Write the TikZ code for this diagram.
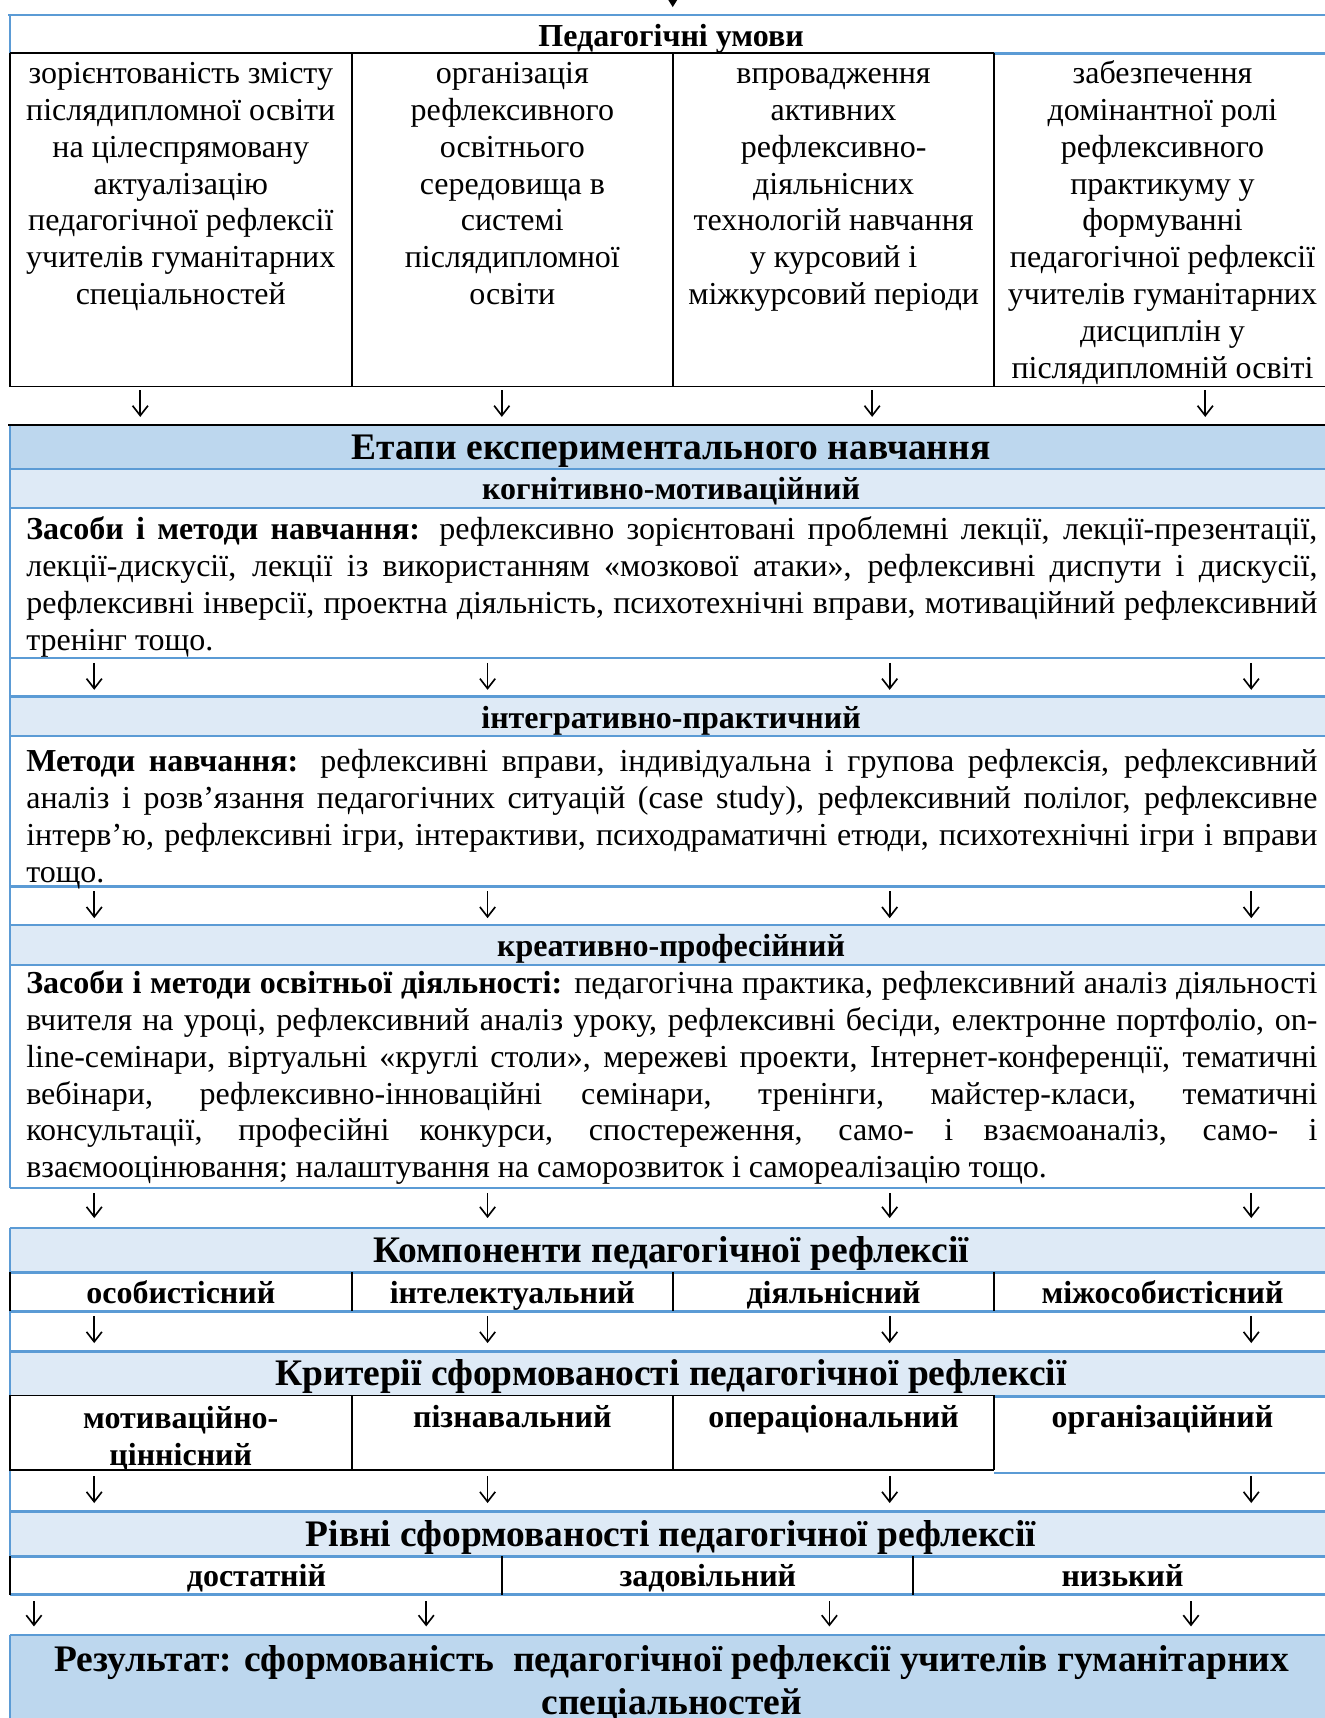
\documentclass[tikz,border=0pt]{standalone}
\usepackage{fontspec}
\setmainfont{Liberation Serif}
\usetikzlibrary{arrows.meta}
\definecolor{lineblue}{HTML}{5B9BD5}
\definecolor{darkfill}{HTML}{BDD7EE}
\definecolor{lightfill}{HTML}{DEEAF6}
\newlength\parw \setlength\parw{589.2pt}
\newcommand\bodyf{\fontsize{14.6pt}{16.8pt}\selectfont}
\newcommand\headf{\fontsize{17.1pt}{19.4pt}\selectfont\bfseries}
\newcommand\jl[1]{\makebox[\parw][s]{#1}}
\newcommand\arrowrow[4]{\foreach \x [count=\i] in {#4} {\coordinate (#1s\i) at (\x,#2); \coordinate (#1e\i) at (\x,#3); \draw[arr] (#1s\i) -- (#1e\i);}}
\begin{document}
\begin{tikzpicture}[x=0.5pt,y=-0.5pt,
  bl/.style={draw=lineblue,line width=1.1pt},
  bk/.style={draw=black,line width=0.85pt},
  arr/.style={-{Straight Barb[length=4.5pt,width=7pt]},line width=0.75pt},
  toparr/.style={-{Triangle[length=5pt,width=6pt]},line width=0.9pt},
  txt/.style={inner sep=0pt,font=\bodyf},
  btxt/.style={inner sep=0pt,font=\bodyf\bfseries},
  htxt/.style={inner sep=0pt,font=\headf}]
\useasboundingbox (0,0) rectangle (1209,1568);
% fills
\fill[darkfill] (9,387.8) rectangle (1215,428.3);
\fill[lightfill] (9,428.3) rectangle (1215,463.9);
\fill[lightfill] (9,635.7) rectangle (1215,671.6);
\fill[lightfill] (9,844) rectangle (1215,880.6);
\fill[lightfill] (9,1120.8) rectangle (1215,1161.3);
\fill[lightfill] (9,1233.4) rectangle (1215,1273.6);
\fill[lightfill] (9,1379.4) rectangle (1215,1420.5);
\fill[darkfill] (9,1492) rectangle (1215,1580);
% conditions frame
\draw[bl] (7.5,13.7) -- (1215,13.7);
\draw[bl] (9,13.7) -- (9,48.7);
\draw[bk] (9,48.7) -- (907.4,48.7);
\draw[bl] (907.4,48.7) -- (1215,48.7);
\draw[bk] (9,48.7) -- (9,352.8) -- (1215,352.8);
\foreach \x in {321,614.3,907.4} \draw[bk] (\x,48.7) -- (\x,352.8);
% stages frame
\draw[bl] (9,387.8) -- (9,1084.3);
\foreach \y in {428.3,463.9,600.7,635.7,671.6,809,844,880.6,1084.3} \draw[bl] (9,\y) -- (1215,\y);
\draw[bk] (7.5,387.8) -- (1215,387.8);
% components / criteria / levels frame
\draw[bl] (9,1120.8) -- (9,1161.3);
\draw[bl] (9,1196.9) -- (9,1273.6);
\draw[bl] (9,1342) -- (9,1420.5);
\foreach \y in {1120.8,1161.3,1196.9,1233.4,1379.4,1420.5,1455.4} \draw[bl] (9,\y) -- (1215,\y);
\draw[bk] (9,1161.3) -- (9,1196.9);
\foreach \x in {321,614.3,907.4} \draw[bk] (\x,1161.3) -- (\x,1196.9);
\draw[bk] (9,1273.6) -- (907.4,1273.6);
\draw[bl] (907.4,1274.5) -- (1215,1274.5);
\draw[bk] (9,1273.6) -- (9,1342) -- (907.4,1342);
\draw[bl] (907.4,1344.4) -- (1215,1344.4);
\foreach \x in {321,614.3,907.4} \draw[bk] (\x,1273.6) -- (\x,1342);
\draw[bk] (9,1420.5) -- (9,1455.4);
\foreach \x in {458.3,833.5} \draw[bk] (\x,1420.5) -- (\x,1455.4);
% result frame
\draw[bl] (9,1492) -- (1215,1492);
\draw[bl] (9,1492) -- (9,1580);
% texts: conditions
\node[btxt,anchor=base] (pu) at (612.5,42.6) {Педагогічні умови};
\node[txt,align=center,anchor=north] (c1) at (165,52.5) {\strut зорієнтованість змісту\\післядипломної освіти\\на цілеспрямовану\\актуалізацію\\педагогічної рефлексії\\учителів гуманітарних\\спеціальностей};
\node[txt,align=center,anchor=north] (c2) at (467.6,52.5) {\strut організація\\рефлексивного\\освітнього\\середовища в\\системі\\післядипломної\\освіти};
\node[txt,align=center,anchor=north] (c3) at (760.8,52.5) {\strut впровадження\\активних\\рефлексивно-\\діяльнісних\\технологій навчання\\у курсовий і\\міжкурсовий періоди};
\node[txt,align=center,anchor=north] (c4) at (1061,52.5) {\strut забезпечення\\домінантної ролі\\рефлексивного\\практикуму у\\формуванні\\педагогічної рефлексії\\учителів гуманітарних\\дисциплін у\\післядипломній освіті};
% stages
\node[htxt,anchor=base] (st) at (612.5,419.1) {Етапи експериментального навчання};
\node[btxt,anchor=base] (s1) at (612.5,455.6) {когнітивно-мотиваційний};
\node[txt,align=left,anchor=north west] (p1) at (23.6,468.6) {\strut\jl{\textbf{Засоби і методи навчання:} рефлексивно зорієнтовані проблемні лекції, лекції-презентації,}\\
\jl{лекції-дискусії, лекції із використанням «мозкової атаки», рефлексивні диспути і дискусії,}\\
\jl{рефлексивні інверсії, проектна діяльність, психотехнічні вправи, мотиваційний рефлексивний}\\
тренінг тощо.};
\node[btxt,anchor=base] (s2) at (612.5,664.6) {інтегративно-практичний};
\node[txt,align=left,anchor=north west] (p2) at (23.6,680.6) {\strut\jl{\textbf{Методи навчання:} рефлексивні вправи, індивідуальна і групова рефлексія, рефлексивний}\\
\jl{аналіз і розв’язання педагогічних ситуацій (case study), рефлексивний полілог, рефлексивне}\\
\jl{інтерв’ю, рефлексивні ігри, інтерактиви, психодраматичні етюди, психотехнічні ігри і вправи}\\
тощо.};
\node[btxt,anchor=base] (s3) at (612.5,873) {креативно-професійний};
\node[txt,align=left,anchor=north west] (p3) at (23.6,882.9) {\strut\jl{\textbf{Засоби і методи освітньої діяльності:} педагогічна практика, рефлексивний аналіз діяльності}\\
\jl{вчителя на уроці, рефлексивний аналіз уроку, рефлексивні бесіди, електронне портфоліо, on-}\\
\jl{line-семінари, віртуальні «круглі столи», мережеві проекти, Інтернет-конференції, тематичні}\\
\jl{вебінари, рефлексивно-інноваційні семінари, тренінги, майстер-класи, тематичні}\\
\jl{консультації, професійні конкурси, спостереження, само- і взаємоаналіз, само- і}\\
взаємооцінювання; налаштування на саморозвиток і самореалізацію тощо.};
% components
\node[htxt,anchor=base] (kh) at (612.5,1152.2) {Компоненти педагогічної рефлексії};
\node[btxt,anchor=base] (k1) at (165,1189.3) {особистісний};
\node[btxt,anchor=base] (k2) at (467.6,1189.3) {інтелектуальний};
\node[btxt,anchor=base] (k3) at (760.8,1189.3) {діяльнісний};
\node[btxt,anchor=base] (k4) at (1061,1189.3) {міжособистісний};
% criteria
\node[htxt,anchor=base] (crh) at (612.5,1264.7) {Критерії сформованості педагогічної рефлексії};
\node[btxt,align=center,anchor=north] (cr1) at (165,1279.8) {\strut мотиваційно-\\ціннісний};
\node[btxt,anchor=base] (cr2) at (467.6,1303.3) {пізнавальний};
\node[btxt,anchor=base] (cr3) at (760.8,1303.3) {операціональний};
\node[btxt,anchor=base] (cr4) at (1061,1303.3) {організаційний};
% levels
\node[htxt,anchor=base] (lh) at (612.5,1411.3) {Рівні сформованості педагогічної рефлексії};
\node[btxt,anchor=base] (l1) at (234,1447.8) {достатній};
\node[btxt,anchor=base] (l2) at (646,1447.8) {задовільний};
\node[btxt,anchor=base] (l3) at (1024.5,1447.8) {низький};
% result
\node[htxt,align=center,anchor=north] (res) at (613,1498.2) {\strut Результат: сформованість\ \ педагогічної рефлексії учителів гуманітарних\\спеціальностей};
% arrows
\coordinate (Ts1) at (614,-20); \coordinate (Te1) at (614,6.5);
\draw[toparr] (Ts1) -- (Te1);
\arrowrow{A}{356}{380.5}{128,458,796,1100}
\arrowrow{B}{605}{629.6}{86,445,812,1142}
\arrowrow{C}{813.6}{838}{86,445,812,1142}
\arrowrow{D}{1088.9}{1111.7}{86,445,812,1142}
\arrowrow{E}{1201.5}{1225.8}{86,445,812,1142}
\arrowrow{F}{1347.4}{1371.8}{86,445,812,1142}
\arrowrow{G}{1461.5}{1484.4}{31,389,757,1087}
\end{tikzpicture}
\end{document}
